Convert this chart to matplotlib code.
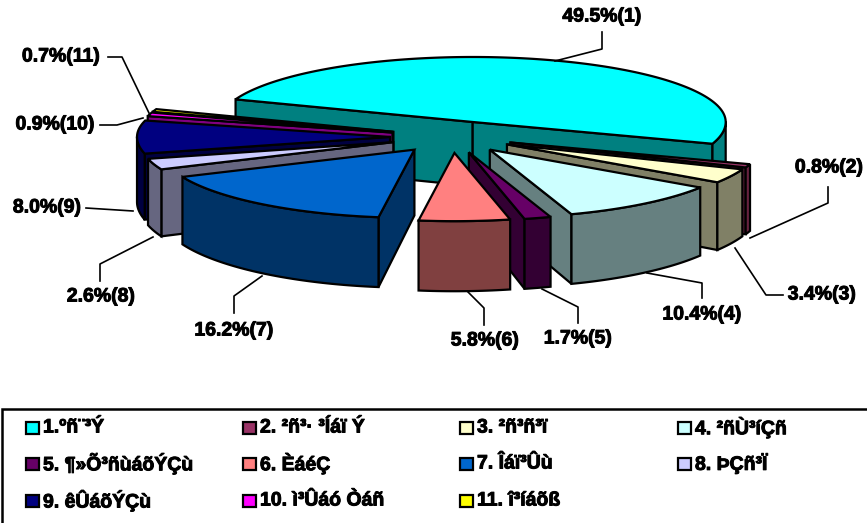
import matplotlib
matplotlib.use('Agg')
import matplotlib.pyplot as plt
import matplotlib.patheffects as pe
from matplotlib.patches import Polygon, Rectangle
import numpy as np

""" Data """

shares = [49.5, 0.8, 3.4, 10.4, 1.7, 5.8, 16.2, 2.6, 8.0, 0.9, 0.7]
regions = ['1.ºñ¨³Ý', '2. ²ñ³· ³Íáï Ý', '3. ²ñ³ñ³ï', '4. ²ñÙ³íÇñ',
           '5. ¶»Õ³ñùáõÝÇù', '6. ÈáéÇ', '7. Îáï³Ûù', '8. ÞÇñ³Ï',
           '9. êÛáõÝÇù', '10. ì³Ûáó Òáñ', '11. î³íáõß']
top_colors = ['#00FFFF', '#993366', '#FFFFCC', '#CCFFFF', '#660066', '#FF8080',
              '#0066CC', '#CCCCFF', '#000080', '#FF00FF', '#FFFF00']
side_colors = ['#008080', '#66223F', '#808066', '#668080', '#330033', '#804040',
               '#003366', '#666680', '#000040', '#800080', '#808000']

""" Pie geometry """

START = 290.4     # degrees clockwise from the back of the pie
CX, CY = 452, 137
A, B = 253, 65
FRONT_STRETCH = 1.05
EXPLODE = 0.245
# back to front
draw_order = [0, 10, 9, 8, 7, 6, 1, 2, 3, 4, 5]

# where each label and its leader line go, same order as shares
label_pos = [(602, 17), (829, 168), (822, 295), (702, 315), (578, 339), (485, 341),
             (234, 331), (101, 297), (47, 208), (55, 125), (61, 57)]
leaders = [[(602, 32), (602, 49), (555, 61)],
           [(828, 187), (828, 203), (750, 238)],
           [(783, 295), (766, 295), (735, 248)],
           [(702, 298), (702, 283), (647, 273)],
           [(578, 323), (578, 307), (542, 289)],
           [(484, 325), (484, 308), (468, 292)],
           [(234, 313), (234, 296), (262, 276)],
           [(100, 281), (100, 264), (153, 237)],
           [(86, 208), (133, 211)],
           [(100, 125), (117, 125), (143, 118)],
           [(108, 57), (122, 57), (149, 113)]]


def depth(y):
    # pie looks a bit taller towards the viewer
    return 64 + 0.06 * (y - 120)


def wall(x0, y0, x1, y1):
    return [(x0, y0), (x1, y1), (x1, y1 + depth(y1)), (x0, y0 + depth(y0))]


fig = plt.figure(figsize=(8.67, 5.23), dpi=100)
ax = fig.add_axes([0, 0, 1, 1])
ax.set_xlim(0, 867)
ax.set_ylim(523, 0)
ax.axis('off')

edges = np.cumsum([0] + shares) * 3.6 / (sum(shares) / 100) + START
z = 1
for i in draw_order:
    t0, t1 = edges[i], edges[i + 1]
    mid = np.radians((t0 + t1) / 2)
    cx = CX + EXPLODE * A * np.sin(mid)
    cy = CY - EXPLODE * B * np.cos(mid)
    ts = np.radians(np.linspace(t0, t1, max(int(t1 - t0), 2) + 1))
    xs = cx + A * np.sin(ts)
    ys = cy - B * np.cos(ts) * np.where(np.cos(ts) < 0, FRONT_STRETCH, 1)

    # straight cut sides, only if they face the viewer (run leftwards going clockwise)
    for x0, y0, x1, y1 in [(cx, cy, xs[0], ys[0]), (xs[-1], ys[-1], cx, cy)]:
        if x1 < x0:
            ax.add_patch(Polygon(wall(x0, y0, x1, y1), closed=True, fc=side_colors[i],
                                 ec='k', lw=1.6, zorder=z))
            z += 1

    # round side, the stretch of the arc that runs leftwards
    left = np.where(np.diff(xs) < 0)[0]
    if len(left):
        ax_x = xs[left[0]:left[-1] + 2]
        ax_y = ys[left[0]:left[-1] + 2]
        lower = ax_y + depth(ax_y)
        pts = np.column_stack([np.concatenate([ax_x, ax_x[::-1]]),
                               np.concatenate([ax_y, lower[::-1]])])
        ax.add_patch(Polygon(pts, closed=True, fc=side_colors[i], ec='k', lw=1.6, zorder=z))
        z += 1

    top = np.column_stack([np.concatenate([[cx], xs]), np.concatenate([[cy], ys])])
    ax.add_patch(Polygon(top, closed=True, fc=top_colors[i], ec='k', lw=1.6, zorder=z))
    z += 1

""" Labels """

heavy = [pe.withStroke(linewidth=0.7, foreground='k')]
for share, pos, pts, n in zip(shares, label_pos, leaders, range(1, 12)):
    ax.plot([p[0] for p in pts], [p[1] for p in pts], color='k', lw=1.2, zorder=z)
    ax.text(pos[0], pos[1], '%.1f%%(%d)' % (share, n), ha='center', va='center',
            family='Liberation Sans', weight='bold', fontsize=14, color='k',
            path_effects=heavy, zorder=z)

""" Legend """

ax.add_patch(Rectangle((1.5, 408.5), 880, 130, fc='white', ec='k', lw=1.8, zorder=z))
col_x = [26, 243, 460, 678]
row_y = [428, 464, 501]
for i, name in enumerate(regions):
    x = col_x[i % 4]
    y = row_y[i // 4]
    ax.add_patch(Rectangle((x, y - 6), 13, 12, fc=top_colors[i], ec='k', lw=1.6, zorder=z + 1))
    ax.text(x + 17, y, name, ha='left', va='center', family='Liberation Sans',
            weight='bold', fontsize=14, color='k', path_effects=heavy, zorder=z + 1)

fig.savefig('out.png', dpi=100)
